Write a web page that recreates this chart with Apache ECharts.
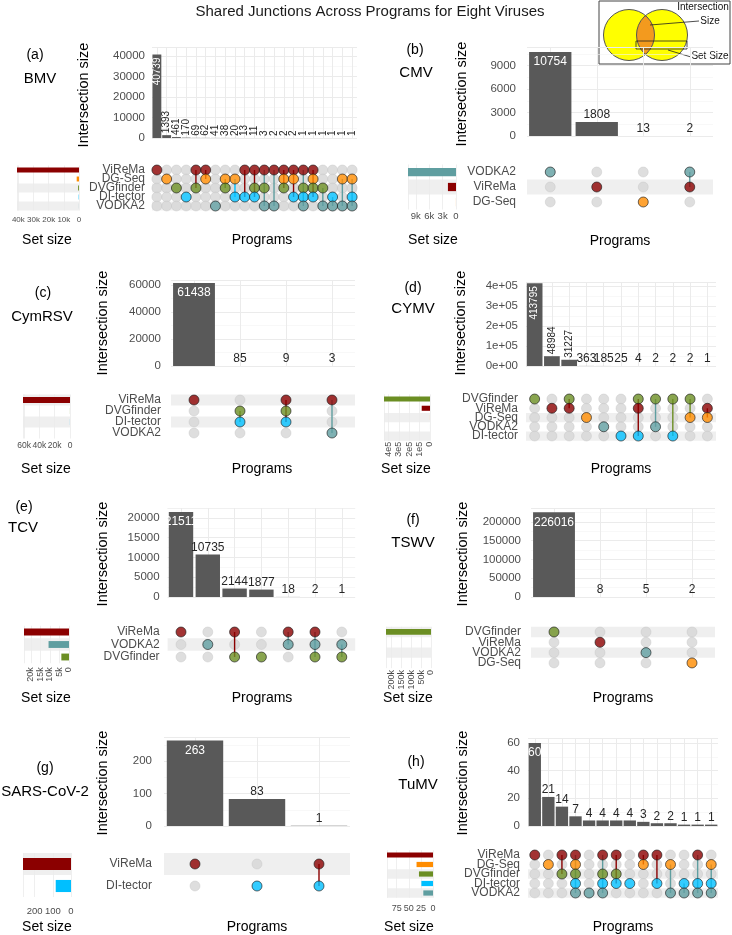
<!DOCTYPE html>
<html>
<head>
<meta charset="utf-8">
<script src="https://cdn.jsdelivr.net/npm/echarts@6/dist/echarts.min.js"></script>
<style>
html, body { margin: 0; padding: 0; background: #fff; }
#chart { width: 732px; height: 935px; }
</style>
</head>
<body>
<div id="chart"></div>
<script>
// ---- data ----
const setsBMV = ['ViReMa', 'DG-Seq', 'DVGfinder', 'DI-tector', 'VODKA2'];
const valuesBMV = [40739, 1393, 461, 170, 69, 62, 41, 38, 20, 13, 11, 3, 2, 2, 2, 1, 1, 1, 1, 1, 1];
const membersBMV = [[0], [1], [2], [3], [0, 2], [0, 1], [4], [1, 2], [1, 3], [0, 3], [0, 2, 3], [0, 2, 4], [0, 4],
	[0, 1, 2], [0, 1, 3], [0, 2, 3, 4], [0, 1, 2, 3], [2, 4], [3, 4], [1, 4], [1, 3, 4]];
const sizesBMV = [40905, 1520, 587, 220, 51];

const setsCMV = ['VODKA2', 'ViReMa', 'DG-Seq'];
const valuesCMV = [10754, 1808, 13, 2];
const membersCMV = [[0], [1], [2], [0, 1]];
const sizesCMV = [10756, 1810, 13];

const setsCymRSV = ['ViReMa', 'DVGfinder', 'DI-tector', 'VODKA2'];
const valuesCymRSV = [61438, 85, 9, 3];
const membersCymRSV = [[0], [1, 2], [0, 1, 2], [0, 3]];
const sizesCymRSV = [61450, 94, 94, 3];

const setsCYMV = ['DVGfinder', 'ViReMa', 'DG-Seq', 'VODKA2', 'DI-tector'];
const valuesCYMV = [413795, 48984, 31227, 363, 185, 25, 4, 2, 2, 2, 1];
const membersCYMV = [[0], [1], [0, 1], [2], [3], [4], [0, 1, 4], [0, 3], [0, 4], [0, 2], [1, 2]];
const sizesCYMV = [445032, 80216, 366, 187, 31];

const setsTCV = ['ViReMa', 'VODKA2', 'DVGfinder'];
const valuesTCV = [21511, 10735, 2144, 1877, 18, 2, 1];
const membersTCV = [[0], [1], [0, 2], [2], [0, 1], [0, 1, 2], [1, 2]];
const sizesTCV = [23675, 10756, 4024];

const setsTSWV = ['DVGfinder', 'ViReMa', 'VODKA2', 'DG-Seq'];
const valuesTSWV = [226016, 8, 5, 2];
const membersTSWV = [[0], [1], [2], [3]];
const sizesTSWV = [226016, 8, 5, 2];

const setsSARS = ['ViReMa', 'DI-tector'];
const valuesSARS = [263, 83, 1];
const membersSARS = [[0], [1], [0, 1]];
const sizesSARS = [264, 84];

const setsTuMV = ['ViReMa', 'DG-Seq', 'DVGfinder', 'DI-tector', 'VODKA2'];
const valuesTuMV = [60, 21, 14, 7, 4, 4, 4, 4, 3, 2, 2, 1, 1, 1];
const membersTuMV = [[0], [1], [0, 2], [0, 1, 2, 3, 4], [4], [0, 2, 3, 4], [0, 2, 3], [3], [0, 1], [0, 3], [1, 4],
	[3, 4], [0, 3, 4], [1, 3, 4]];
const sizesTuMV = [95, 34, 29, 24, 20];

// ---- styling ----
const programColor = {
	'ViReMa': '#8B0000',
	'DG-Seq': '#FF8C00',
	'DVGfinder': '#6B8E23',
	'DI-tector': '#00BFFF',
	'VODKA2': '#5F9EA0'
};
// the connector takes the colour of the first program met in this order
const linePriority = ['VODKA2', 'ViReMa', 'DVGfinder', 'DI-tector', 'DG-Seq'];
const FONT = 'Liberation Sans, Arial, sans-serif';

const fmtPlain = v => String(v);
const fmtK = v => v === 0 ? '0' : (v / 1000) + 'k';
const fmtE5 = v => v === 0 ? '0' : (v / 1e5) + 'e5';
const fmtE05 = v => v === 0 ? '0e+00' : (v / 1e5) + 'e+05';

const panels = [
	{tag: '(a)', name: 'BMV', sets: setsBMV, values: valuesBMV, members: membersBMV, sizes: sizesBMV,
		bar: [152, 47, 205, 91], yMax: 44400, yStep: 10000, yFmt: fmtPlain, lm: 7, rotN: 21,
		mat: [165.5, 45], set: [17, 62], sStep: 10000, sFmt: fmtK, sRot: 0, sFont: 8, sm: 5,
		tagXY: [35, 55], nameXY: [40, 79], isXY: [84, 95], setT: [47, 240], progT: [262, 240]},
	{tag: '(b)', name: 'CMV', sets: setsCMV, values: valuesCMV, members: membersCMV, sizes: sizesCMV,
		bar: [527, 47, 186, 89], yMax: 11400, yStep: 3000, yFmt: fmtPlain, lm: 11, rotN: 0,
		mat: [164.5, 45], set: [408, 48], sStep: 3000, sFmt: fmtK, sRot: 0, sFont: 9.5, sm: 2,
		tagXY: [415, 50], nameXY: [416, 73], isXY: [462, 94], setT: [433, 240], progT: [620, 241]},
	{tag: '(c)', name: 'CymRSV', sets: setsCymRSV, values: valuesCymRSV, members: membersCymRSV, sizes: sizesCymRSV,
		bar: [171, 280, 184, 86], yMax: 63700, yStep: 20000, yFmt: fmtPlain, lm: 10, rotN: 0,
		mat: [394.5, 44], set: [23, 47], sStep: 20000, sFmt: fmtK, sRot: 0, sFont: 8.5, sm: 3,
		tagXY: [43, 293], nameXY: [42, 317], isXY: [103, 323], setT: [46, 469], progT: [262, 469]},
	{tag: '(d)', name: 'CYMV', sets: setsCYMV, values: valuesCYMV, members: membersCYMV, sizes: sizesCYMV,
		bar: [526, 282, 190, 84], yMax: 420000, yStep: 100000, yFmt: fmtE05, lm: 8, rotN: 3,
		mat: [394.4, 46.25], set: [384, 46], sStep: 100000, sFmt: fmtE5, sRot: 90, sFont: 9, sm: 1,
		tagXY: [413, 288], nameXY: [413, 309], isXY: [461, 323], setT: [406, 469], progT: [621, 469]},
	{tag: '(e)', name: 'TCV', sets: setsTCV, values: valuesTCV, members: membersTCV, sizes: sizesTCV,
		bar: [167.6, 508, 187.6, 89], yMax: 22530, yStep: 5000, yFmt: fmtPlain, lm: 8, rotN: 0,
		mat: [625.75, 37.5], set: [24, 45], sStep: 5000, sFmt: fmtK, sRot: 90, sFont: 9, sm: 4,
		tagXY: [24, 507], nameXY: [23, 528], isXY: [103, 554], setT: [46, 698], progT: [262, 698]},
	{tag: '(f)', name: 'TSWV', sets: setsTSWV, values: valuesTSWV, members: membersTSWV, sizes: sizesTSWV,
		bar: [531, 508, 184, 89], yMax: 237300, yStep: 50000, yFmt: fmtPlain, lm: 10, rotN: 0,
		mat: [626.8, 41.3], set: [386, 45], sStep: 50000, sFmt: fmtK, sRot: 90, sFont: 9, sm: 2,
		tagXY: [413, 520], nameXY: [413, 543], isXY: [463, 554], setT: [408, 698], progT: [623, 698]},
	{tag: '(g)', name: 'SARS-CoV-2', sets: setsSARS, values: valuesSARS, members: membersSARS, sizes: sizesSARS,
		bar: [164, 737, 186, 89], yMax: 274, yStep: 100, yFmt: fmtPlain, lm: 12, rotN: 0,
		mat: [853, 44], set: [23, 48], sStep: 100, sFmt: fmtPlain, sRot: 0, sFont: 9.5, sm: 9,
		tagXY: [45, 768], nameXY: [45, 792], isXY: [103, 783], setT: [47, 927], progT: [257, 927]},
	{tag: '(h)', name: 'TuMV', sets: setsTuMV, values: valuesTuMV, members: membersTuMV, sizes: sizesTuMV,
		bar: [528, 738, 190, 88], yMax: 63.6, yStep: 20, yFmt: fmtPlain, lm: 8, rotN: 0,
		mat: [850.25, 47.5], set: [387, 46], sStep: 25, sFmt: fmtPlain, sRot: 0, sFont: 9, sm: 6,
		tagXY: [416, 762], nameXY: [418, 785], isXY: [463, 783], setT: [409, 927], progT: [623, 927]}
];

function shadeColors(n) {
	let out = [];
	for (let i = 0; i < n; i++) {
		let on = n === 5 ? (i % 2 === 0 && i > 0) : ((n - 1 - i) % 2 === 1);
		out.push(on ? '#efefef' : 'rgba(255,255,255,0)');
	}
	return out;
}

function barLabel(p, i) {
	let rot = i < p.rotN;
	if (i === 0) {
		return rot ? {position: 'insideTop', rotate: 90, align: 'right', verticalAlign: 'middle', color: '#fff', fontSize: 10, distance: 3}
			: {position: 'insideTop', color: '#fff', fontSize: 12, distance: 4};
	}
	return rot ? {position: 'top', rotate: 90, align: 'left', verticalAlign: 'middle', color: '#262626', fontSize: 10, distance: 2}
		: {position: 'top', color: '#262626', fontSize: 12, distance: 1};
}

function text(x, y, str, size, color, rot) {
	return {type: 'text', x: x, y: y, rotation: rot || 0, silent: true,
		style: {text: str, fontSize: size, fontFamily: FONT, fill: color, align: 'center', verticalAlign: 'middle',
			textAlign: 'center', textVerticalAlign: 'middle'}};
}

let option = {
	animation: false,
	textStyle: {fontFamily: FONT},
	grid: [], xAxis: [], yAxis: [], series: [],
	graphic: []
};

panels.forEach(function (p) {
	let g = option.grid.length, xa = option.xAxis.length, ya = option.yAxis.length;
	let cats = p.values.map((v, i) => 'c' + i);
	let shade = shadeColors(p.sets.length);

	option.grid.push({left: p.bar[0], top: p.bar[1], width: p.bar[2], height: p.bar[3]});
	option.grid.push({left: p.bar[0], top: p.mat[0], width: p.bar[2], height: p.mat[1]});
	option.grid.push({left: p.set[0], top: p.mat[0], width: p.set[1], height: p.mat[1]});

	// intersection bars
	option.xAxis.push({gridIndex: g, type: 'category', data: cats, show: false});
	option.yAxis.push({
		gridIndex: g, type: 'value', min: 0, max: p.yMax, interval: p.yStep,
		axisLine: {show: false}, axisTick: {show: false},
		axisLabel: {fontSize: 11.5, color: '#4d4d4d', margin: p.lm,
			formatter: v => (v % p.yStep === 0 ? p.yFmt(v) : '')},
		splitLine: {lineStyle: {color: '#ebebeb', width: 1}},
		minorTick: {show: false, splitNumber: 2},
		minorSplitLine: {show: true, lineStyle: {color: '#f3f3f3', width: 0.6}}
	});
	// dot matrix
	option.xAxis.push({gridIndex: g + 1, type: 'category', data: cats, show: false});
	option.yAxis.push({
		gridIndex: g + 1, type: 'category', data: p.sets, inverse: true,
		axisLine: {show: false}, axisTick: {show: false}, splitLine: {show: false},
		axisLabel: {interval: 0, fontSize: 12, color: '#4d4d4d', margin: p.lm},
		splitArea: {show: true, interval: 0, areaStyle: {color: shade}}
	});
	// set size
	option.xAxis.push({
		gridIndex: g + 2, type: 'value', inverse: true, min: 0, max: Math.max(...p.sizes), interval: p.sStep,
		axisLine: {show: false}, axisTick: {show: false},
		splitLine: {lineStyle: {color: '#ebebeb', width: 0.8}},
		axisLabel: {fontSize: p.sFont, color: '#4d4d4d', rotate: p.sRot, margin: p.sm,
			formatter: v => (v % p.sStep === 0 ? p.sFmt(v) : '')}
	});
	option.yAxis.push({
		gridIndex: g + 2, type: 'category', data: p.sets, inverse: true,
		axisLine: {show: false}, axisTick: {show: false}, axisLabel: {show: false}, splitLine: {show: false},
		splitArea: {show: true, interval: 0, areaStyle: {color: shade}}
	});

	// vertical guide lines at every bar
	option.series.push({
		type: 'line', xAxisIndex: xa, yAxisIndex: ya, data: [], silent: true,
		markLine: {silent: true, z: 1, symbol: ['none', 'none'], label: {show: false},
			lineStyle: {color: '#ebebeb', width: 1, type: 'solid'},
			data: cats.map(c => ({xAxis: c}))}
	});
	option.series.push({
		type: 'bar', xAxisIndex: xa, yAxisIndex: ya, z: 3, barCategoryGap: '9%', silent: true,
		itemStyle: {color: '#595959'},
		label: {show: true, fontFamily: FONT},
		data: p.values.map((v, i) => ({value: v, label: barLabel(p, i)}))
	});

	let grey = [], dots = [], links = [], linkColor = [];
	p.members.forEach(function (mem, i) {
		p.sets.forEach(function (s, r) {
			if (mem.indexOf(r) < 0) grey.push([i, r]);
			else dots.push({value: [i, r], itemStyle: {color: programColor[s]}});
		});
		if (mem.length > 1) {
			links.push([i, Math.min(...mem), Math.max(...mem)]);
			let names = mem.map(r => p.sets[r]);
			let first = linePriority.find(n => names.indexOf(n) >= 0);
			linkColor.push(programColor[first]);
		}
	});
	option.series.push({
		type: 'scatter', xAxisIndex: xa + 1, yAxisIndex: ya + 1, symbolSize: 10, silent: true, z: 2,
		itemStyle: {color: '#d6d6d6', borderColor: '#c4c4c4', borderWidth: 0.5},
		data: grey
	});
	option.series.push({
		type: 'custom', xAxisIndex: xa + 1, yAxisIndex: ya + 1, silent: true, z: 3,
		encode: {x: 0, y: [1, 2]},
		renderItem: function (params, api) {
			let a = api.coord([api.value(0), api.value(1)]);
			let b = api.coord([api.value(0), api.value(2)]);
			return {type: 'line', shape: {x1: a[0], y1: a[1], x2: b[0], y2: b[1]},
				style: {stroke: linkColor[params.dataIndex], lineWidth: 1.4}};
		},
		data: links
	});
	option.series.push({
		type: 'scatter', xAxisIndex: xa + 1, yAxisIndex: ya + 1, symbolSize: 10, silent: true, z: 4,
		itemStyle: {borderColor: '#1a1a1a', borderWidth: 0.8},
		data: dots
	});
	option.series.push({
		type: 'bar', xAxisIndex: xa + 2, yAxisIndex: ya + 2, barCategoryGap: '45%', silent: true,
		data: p.sizes.map((v, i) => ({value: v, itemStyle: {color: programColor[p.sets[i]]}}))
	});

	option.graphic.push(text(p.tagXY[0], p.tagXY[1], p.tag, 14, '#000'));
	option.graphic.push(text(p.nameXY[0], p.nameXY[1], p.name, 15, '#000'));
	option.graphic.push(text(p.isXY[0], p.isXY[1], 'Intersection size', 14.5, '#000', Math.PI / 2));
	option.graphic.push(text(p.setT[0], p.setT[1], 'Set size', 14, '#000'));
	option.graphic.push(text(p.progT[0], p.progT[1], 'Programs', 14, '#000'));
});

option.graphic.push(text(370, 12, 'Shared Junctions Across Programs for Eight Viruses', 15, '#1a1a1a'));

// small Venn key in the top right corner
let c1 = [629, 35], c2 = [662, 35], rr = 25.5;
let half = (c2[0] - c1[0]) / 2, th = Math.acos(half / rr);
let lens = [];
for (let k = 0; k <= 20; k++) {
	let a = -th + 2 * th * k / 20;
	lens.push([c1[0] + rr * Math.cos(a), c1[1] + rr * Math.sin(a)]);
}
for (let k = 0; k <= 20; k++) {
	let a = Math.PI - th + 2 * th * k / 20;
	lens.push([c2[0] + rr * Math.cos(a), c2[1] - rr * Math.sin(a)]);
}
option.graphic.push(
	{type: 'rect', shape: {x: 599, y: 1, width: 131, height: 63}, style: {fill: '#fff', stroke: '#444', lineWidth: 1}, silent: true},
	{type: 'circle', shape: {cx: c1[0], cy: c1[1], r: rr}, style: {fill: '#ffff00'}, silent: true},
	{type: 'circle', shape: {cx: c2[0], cy: c2[1], r: rr}, style: {fill: '#ffff00'}, silent: true},
	{type: 'polygon', shape: {points: lens}, style: {fill: '#f39a1e'}, silent: true},
	{type: 'circle', shape: {cx: c1[0], cy: c1[1], r: rr}, style: {fill: 'none', stroke: '#555', lineWidth: 1}, silent: true},
	{type: 'circle', shape: {cx: c2[0], cy: c2[1], r: rr}, style: {fill: 'none', stroke: '#555', lineWidth: 1}, silent: true},
	{type: 'rect', shape: {x: 636, y: 41, width: 51, height: 8}, style: {fill: 'none', stroke: '#222', lineWidth: 0.8}, silent: true},
	{type: 'line', shape: {x1: 650, y1: 25, x2: 699, y2: 21}, style: {stroke: '#222', lineWidth: 0.8}, silent: true},
	{type: 'line', shape: {x1: 668, y1: 50, x2: 691, y2: 57}, style: {stroke: '#222', lineWidth: 0.8}, silent: true},
	text(703, 7, 'Intersection', 10, '#111'),
	text(710, 21, 'Size', 10, '#111'),
	text(710, 56, 'Set Size', 10, '#111')
);

let mychart = echarts.init(document.getElementById('chart'));
mychart.setOption(option);
</script>
</body>
</html>
